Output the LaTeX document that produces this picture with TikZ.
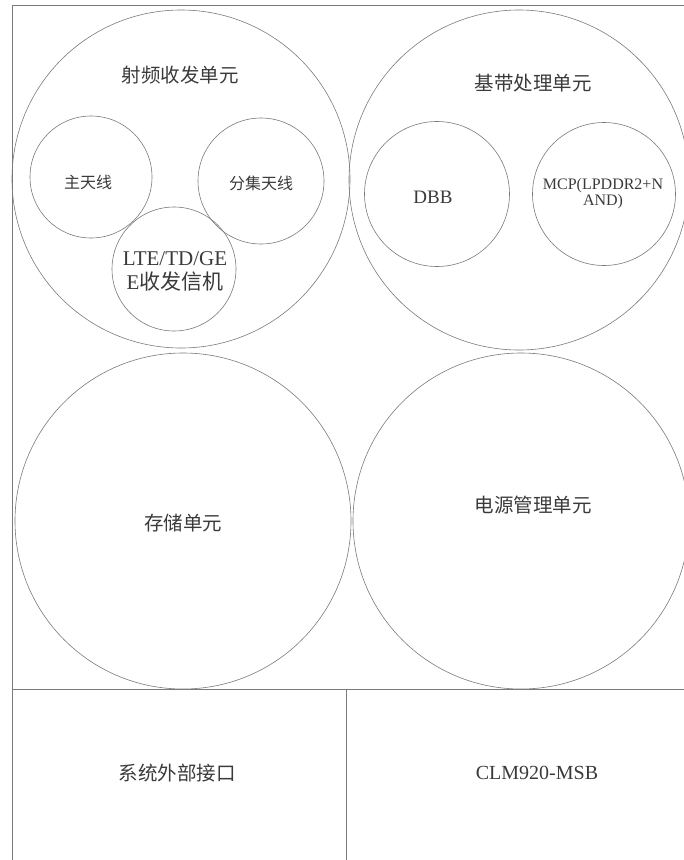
\documentclass[tikz,border=0pt]{standalone}
\usepackage{fontspec}
\setmainfont{Liberation Serif}
\newfontfamily\cjk{Noto Sans CJK SC}
\definecolor{linegray}{HTML}{7A7A7A}
\definecolor{textgray}{HTML}{3A3A3A}
\begin{document}
\begin{tikzpicture}[x=1pt,y=-1pt,
  frameline/.style={draw=linegray, line width=0.7pt},
  ring/.style={circle, draw=linegray, line width=0.6pt, inner sep=0pt, minimum size=#1},
  lbl/.style={text=textgray, inner sep=0pt, align=center, font=\fontsize{#1}{#1}\selectfont}
]
\useasboundingbox (0,0) rectangle (684,860);
% frame
\coordinate (fbl) at (12,860);
\coordinate (ftl) at (12,5.5);
\coordinate (ftr) at (684,5.5);
\coordinate (hl) at (12,689);
\coordinate (hr) at (684,689);
\coordinate (vt) at (346,689);
\coordinate (vb) at (346,860);
\draw[frameline] (fbl) -- (ftl) -- (ftr);
\draw[frameline] (hl) -- (hr);
\draw[frameline] (vt) -- (vb);
% big circles
\node[ring=338pt] (rf) at (181,179) {};
\node[ring=340pt] (bb) at (519,180) {};
\node[ring=336pt] (st) at (183,521) {};
\node[ring=336pt] (pm) at (521,521) {};
% small circles
\node[ring=122pt] (ant1) at (91,177) {};
\node[ring=126pt] (ant2) at (261,181) {};
\node[ring=124pt] (lte) at (174,269) {};
\node[ring=145pt] (dbb) at (437,194) {};
\node[ring=143pt] (mcp) at (604,194) {};
% labels
\node[lbl=19.5pt] (rft) at (180,75) {\cjk 射频收发单元};
\node[lbl=19.5pt] (bbt) at (533,83) {\cjk 基带处理单元};
\node[lbl=16pt] (ant1t) at (88,182) {\cjk 主天线};
\node[lbl=16pt] (ant2t) at (261,183) {\cjk 分集天线};
\node[lbl=21pt, text depth=0pt] (ltet) at (175,270.5) {LTE/TD/GE\\[3pt]E{\cjk 收发信机}};
\node[lbl=19pt] (dbbt) at (433,197) {DBB};
\node[lbl=16pt] (mcpt) at (603,193.5) {MCP(LPDDR2+N\\AND)};
\node[lbl=19.5pt] (stt) at (183,523) {\cjk 存储单元};
\node[lbl=19.5pt] (pmt) at (533,505) {\cjk 电源管理单元};
\node[lbl=19.5pt] (ext) at (177,773) {\cjk 系统外部接口};
\node[lbl=20pt] (clm) at (537,773) {CLM920-MSB};
\end{tikzpicture}
\end{document}
